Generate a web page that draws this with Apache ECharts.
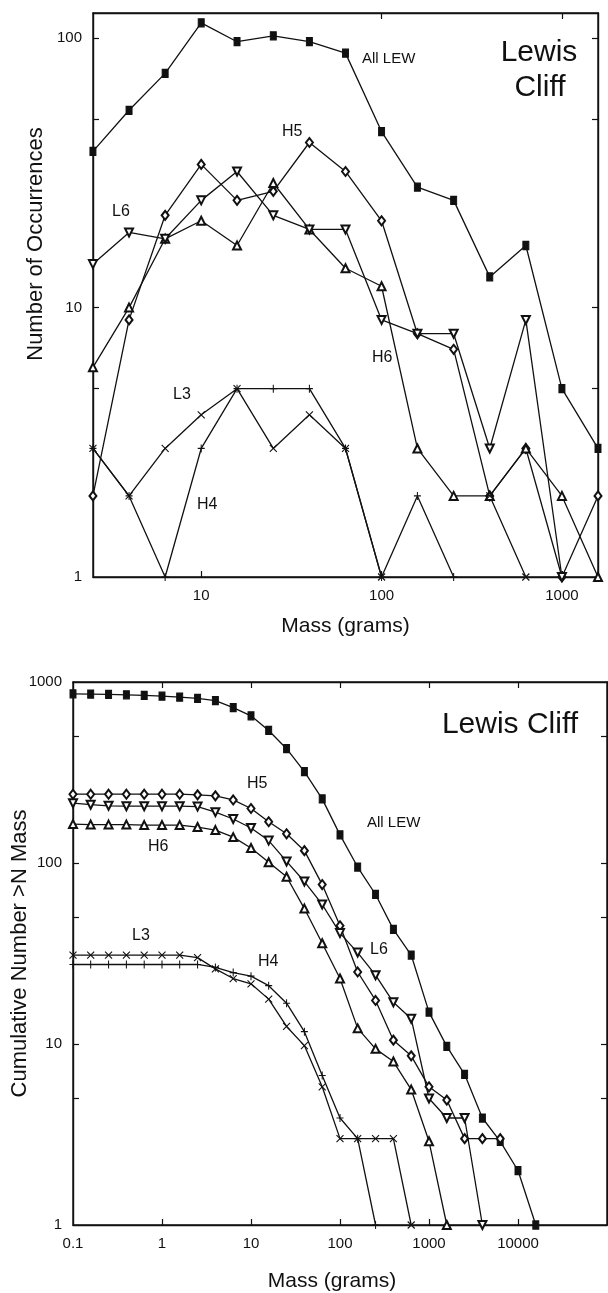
<!DOCTYPE html>
<html>
<head>
<meta charset="utf-8">
<title>Lewis Cliff mass distribution</title>
<script src="https://cdn.jsdelivr.net/npm/echarts@6.0.0/dist/echarts.min.js"></script>
<style>
  html, body { margin: 0; padding: 0; background: #fff; }
  #main { width: 608px; height: 1293px; }
</style>
</head>
<body>
<div id="main"></div>
<script>
// --- top panel: number of occurrences per mass bin (grams) ---
var binMass = [2.51, 3.98, 6.31, 10, 15.8, 25.1, 39.8, 63.1, 100, 158, 251, 398, 631, 1000, 1585];
var occAllLew = [38, 54, 74, 114, 97, 102, 97, 88, 45, 28, 25, 13, 17, 5, 3];
var occH5 = [2, 9, 22, 34, 25, 27, 41, 32, 21, 8, 7, 2, 3, 1, 2];
var occH6 = [6, 10, 18, 21, 17, 29, 19.5, 14, 12, 3, 2, 2, 3, 2, 1];
var occL6 = [14.5, 19, 18, 25, 32, 22, 19.5, 19.5, 9, 8, 8, 3, 9, 1, null];
var occL3 = [3, 2, 3, 4, 5, 3, 4, 3, 1, null, null, 2, 1, null, null];
var occH4 = [3, 2, 1, 3, 5, 5, 5, 3, 1, 2, 1, null, null, null, null];

// --- bottom panel: cumulative number above mass ---
var cumMass = [0.1, 0.158, 0.251, 0.398, 0.631, 1, 1.58, 2.51, 3.98, 6.31, 10, 15.8, 25.1, 39.8, 63.1,
  100, 158, 251, 398, 631, 1000, 1585, 2512, 3981, 6310, 10000, 15850];
var cumAllLew = [860, 858, 855, 850, 843, 835, 825, 812, 790, 722, 650, 540, 428, 320, 226,
  143, 95, 67, 43, 31, 15, 9.7, 6.8, 3.9, 2.9, 2, 1];
var cumH5 = [240, 240, 240, 240, 240, 240, 240, 238, 235, 223, 200, 169, 145, 117, 76,
  45, 25, 17.4, 10.5, 8.6, 5.8, 4.9, 3, 3, 3];
var cumL6 = [214, 210, 207, 206, 206, 206, 206, 205, 191, 175, 156, 133, 102, 79, 59,
  41, 32, 24, 17, 13.8, 5, 3.9, 3.9, 1];
var cumH6 = [164, 163, 163, 163, 162, 162, 162, 158, 152, 139, 121, 101, 84, 56, 36,
  23, 12.2, 9.4, 8, 5.6, 2.9, 1];
var cumL3 = [31, 31, 31, 31, 31, 31, 31, 30, 26, 23, 21.5, 17.7, 12.5, 9.8, 5.8, 3, 3, 3, 3, 1];
var cumH4 = [27.5, 27.5, 27.5, 27.5, 27.5, 27.5, 27.5, 27.5, 26.5, 24.8, 23.7, 21, 16.8, 11.7, 6.7, 3.9, 3, 1];

// tick / label positions
var topXLabels = [10, 100, 1000];
var topXTopTicks = [100, 1000];
var topYLabels = [1, 10, 100];
var topYTicks = [5, 10, 50, 100];
var botXLabels = [0.1, 1, 10, 100, 1000, 10000];
var botXTicks = [1, 10, 100, 1000, 10000];
var botYLabels = [1, 10, 100, 1000];
var botYTicks = [5, 10, 50, 100, 500];

var FONT = '"Liberation Sans", Arial, Helvetica, sans-serif';
var INK = '#111';

function pairs(xs, ys) {
  var out = [];
  for (var i = 0; i < ys.length; i++) {
    out.push([xs[i], ys[i] == null ? '-' : ys[i]]);
  }
  return out;
}

function fmt(v) {
  return String(parseFloat((+v).toPrecision(4)));
}

function axis(grid, pos, min, max, ticks, labels, extra) {
  var a = {
    type: 'log',
    logBase: 10,
    gridIndex: grid,
    position: pos,
    min: min,
    max: max,
    nameMoveOverlap: false,
    axisLine: { show: true, onZero: false, lineStyle: { color: INK, width: 1.4 } },
    axisTick: { show: true, inside: true, length: 6, customValues: ticks, lineStyle: { color: INK, width: 1.2 } },
    axisLabel: labels ? {
      show: true, customValues: labels, formatter: fmt,
      fontFamily: FONT, fontSize: 15, color: INK, margin: 11
    } : { show: false },
    splitLine: { show: false },
    minorTick: { show: false }
  };
  for (var k in extra) a[k] = extra[k];
  return a;
}

var SYM = {
  allLew: { symbol: 'rect', symbolSize: [6, 8] },
  h5: { symbol: 'emptyDiamond', symbolSize: [7, 9] },
  h6: { symbol: 'emptyTriangle', symbolSize: 8 },
  l6: { symbol: 'emptyTriangle', symbolSize: 8, symbolRotate: 180 },
  l3: { symbol: 'path://M0,0L10,10M10,0L0,10', symbolSize: 7 },
  h4: { symbol: 'path://M5,0L5,10M1,5L9,5', symbolSize: [7, 8] }
};

function line(name, xi, yi, data, sym) {
  var s = {
    name: name,
    type: 'line',
    xAxisIndex: xi,
    yAxisIndex: yi,
    data: data,
    connectNulls: false,
    showAllSymbol: true,
    animation: false,
    lineStyle: { color: INK, width: 1.3 },
    itemStyle: { color: INK, borderColor: INK, borderWidth: 1.1 },
    z: 3
  };
  for (var k in sym) s[k] = sym[k];
  return s;
}

function label(txt, x, y, size, align) {
  return {
    type: 'text',
    x: x,
    y: y,
    style: {
      text: txt,
      font: (size || 15) + 'px ' + FONT,
      fill: INK,
      align: align || 'left',
      verticalAlign: 'middle'
    },
    z: 10
  };
}

var chart = echarts.init(document.getElementById('main'));

chart.setOption({
  backgroundColor: '#fff',
  animation: false,
  grid: [
    { left: 93, top: 13, width: 505, height: 564, show: true, borderColor: INK, borderWidth: 1.4, outerBoundsMode: 'none', containLabel: false },
    { left: 73, top: 682, width: 534, height: 543, show: true, borderColor: INK, borderWidth: 1.4, outerBoundsMode: 'none', containLabel: false }
  ],
  xAxis: [
    axis(0, 'bottom', 2.512, 1585, topXLabels, topXLabels, {
      name: 'Mass (grams)', nameLocation: 'middle', nameGap: 39,
      nameTextStyle: { fontFamily: FONT, fontSize: 21, color: INK }
    }),
    axis(0, 'top', 2.512, 1585, topXTopTicks, null, {}),
    axis(1, 'bottom', 0.1, 100000, botXTicks, botXLabels, {
      name: 'Mass (grams)', nameLocation: 'middle', nameGap: 46,
      nameTextStyle: { fontFamily: FONT, fontSize: 21, color: INK, padding: [0, 16, 0, 0] }
    }),
    axis(1, 'top', 0.1, 100000, botXTicks, null, {})
  ],
  yAxis: [
    axis(0, 'left', 1, 124, topYTicks, topYLabels, {
      name: 'Number of Occurrences', nameLocation: 'middle', nameGap: 46,
      nameTextStyle: { fontFamily: FONT, fontSize: 22, color: INK, padding: [0, 0, 0, 102] }
    }),
    axis(0, 'right', 1, 124, topYTicks, null, {}),
    axis(1, 'left', 1, 1000, botYTicks, botYLabels, {
      name: 'Cumulative Number >N Mass', nameLocation: 'middle', nameGap: 42,
      nameTextStyle: { fontFamily: FONT, fontSize: 22, color: INK }
    }),
    axis(1, 'right', 1, 1000, botYTicks, null, {})
  ],
  series: [
    line('All LEW', 0, 0, pairs(binMass, occAllLew), SYM.allLew),
    line('H5', 0, 0, pairs(binMass, occH5), SYM.h5),
    line('H6', 0, 0, pairs(binMass, occH6), SYM.h6),
    line('L6', 0, 0, pairs(binMass, occL6), SYM.l6),
    line('L3', 0, 0, pairs(binMass, occL3), SYM.l3),
    line('H4', 0, 0, pairs(binMass, occH4), SYM.h4),

    line('All LEW', 2, 2, pairs(cumMass, cumAllLew), SYM.allLew),
    line('H5', 2, 2, pairs(cumMass, cumH5), SYM.h5),
    line('L6', 2, 2, pairs(cumMass, cumL6), SYM.l6),
    line('H6', 2, 2, pairs(cumMass, cumH6), SYM.h6),
    line('L3', 2, 2, pairs(cumMass, cumL3), SYM.l3),
    line('H4', 2, 2, pairs(cumMass, cumH4), SYM.h4)
  ],
  graphic: [
    // top panel annotations
    label('All LEW', 362, 59, 15),
    label('H5', 282, 132, 16),
    label('L6', 112, 212, 16),
    label('H6', 372, 358, 16),
    label('L3', 173, 395, 16),
    label('H4', 197, 505, 16),
    label('Lewis', 539, 53, 30, 'center'),
    label('Cliff', 540, 88, 30, 'center'),
    // bottom panel annotations
    label('All LEW', 367, 823, 15),
    label('H5', 247, 784, 16),
    label('H6', 148, 847, 16),
    label('L6', 370, 950, 16),
    label('L3', 132, 936, 16),
    label('H4', 258, 962, 16),
    label('Lewis Cliff', 510, 725, 30, 'center')
  ]
});
</script>
</body>
</html>
